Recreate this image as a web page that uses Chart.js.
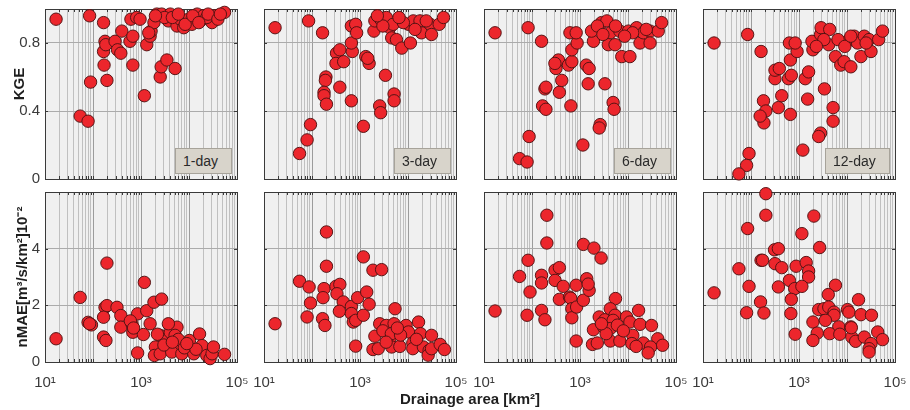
<!DOCTYPE html>
<html>
<head>
<meta charset="utf-8">
<script src="https://cdn.jsdelivr.net/npm/chart.js@4.4.0/dist/chart.umd.min.js"></script>
<style>
  body { margin: 0; background: #fff; width: 910px; height: 410px; position: relative; overflow: hidden;
         font-family: "Liberation Sans", Arial, sans-serif; }
  canvas { position: absolute; }
  .ytitle, .xtitle { position: absolute; font-weight: bold; font-size: 15px; color: #1e1e1e; white-space: nowrap; }
  .ytitle { transform: translate(-50%, -50%) rotate(-90deg); }
  .xtitle { transform: translate(-50%, -50%); }
  .tag { position: absolute; box-sizing: border-box; height: 26px; background: #d8d4cb; border: 1px solid #a7a39a;
         font-size: 14px; color: #2a2a2a; line-height: 24px; padding-left: 7px; }
</style>
</head>
<body>
<script>
// drainage area [km2] vs score, one list per panel
const kge1 = [[17,0.94],[85,0.96],[166,0.92],[54,0.37],[79,0.34],[89,0.57],[195,0.58],[170,0.67],[166,0.75],[178,0.81],
  [185,0.79],[288,0.81],[324,0.76],[380,0.74],[398,0.87],[589,0.81],[676,0.84],[676,0.67],[617,0.94],[813,0.95],
  [955,0.94],[1318,0.79],[1549,0.84],[1622,0.87],[1175,0.49],[1862,0.92],[2138,0.97],[2692,0.97],[2512,0.60],[2630,0.66],
  [3467,0.70],[5129,0.65],[4074,0.97],[3715,0.93],[5623,0.90],[6607,0.94],[7762,0.89],[9772,0.94],[11482,0.91],[14791,0.97],
  [17378,0.93],[19953,0.96],[30200,0.92],[35481,0.96],[54954,0.98],[23442,0.95],[8318,0.91],[3090,0.95],[2000,0.96],[4500,0.95],
  [6000,0.97],[12000,0.96],[16000,0.92],[25000,0.97],[40000,0.94],[45000,0.97],[1450,0.86]];
const kge3 = [[17,0.89],[85,0.93],[166,0.86],[93,0.32],[79,0.23],[55,0.15],[195,0.60],[190,0.58],[178,0.51],[178,0.49],
  [200,0.44],[380,0.54],[661,0.46],[324,0.74],[380,0.76],[316,0.68],[457,0.69],[692,0.75],[661,0.80],[661,0.90],
  [813,0.91],[851,0.86],[1318,0.72],[1549,0.68],[1450,0.71],[1175,0.31],[1950,0.87],[3388,0.61],[5129,0.50],[5129,0.46],
  [2570,0.43],[2692,0.39],[2042,0.93],[2692,0.94],[3548,0.95],[4169,0.89],[4898,0.91],[4571,0.83],[5754,0.82],[7413,0.77],
  [10233,0.91],[11220,0.80],[12882,0.93],[19055,0.86],[17783,0.93],[28840,0.91],[30903,0.85],[44668,0.91],[54954,0.95],[14000,0.88],
  [8000,0.92],[3000,0.90],[24000,0.93],[6500,0.95],[2300,0.96]];
const kge6 = [[17,0.86],[83,0.89],[158,0.81],[87,0.25],[55,0.12],[79,0.10],[166,0.43],[195,0.41],[186,0.53],[195,0.54],
  [372,0.51],[646,0.43],[417,0.58],[316,0.65],[355,0.70],[300,0.68],[575,0.67],[676,0.69],[676,0.76],[871,0.80],
  [617,0.86],[832,0.86],[1349,0.67],[1549,0.65],[1479,0.56],[3311,0.56],[4898,0.45],[5129,0.41],[2630,0.32],[2512,0.30],
  [1148,0.20],[1905,0.81],[1738,0.87],[2818,0.92],[3631,0.93],[4266,0.86],[3890,0.79],[5370,0.79],[6761,0.87],[7413,0.72],
  [10965,0.72],[10233,0.87],[15136,0.89],[17783,0.80],[20893,0.86],[28840,0.87],[28840,0.80],[42658,0.87],[50119,0.92],[12500,0.86],
  [2300,0.90],[3000,0.85],[8500,0.84],[5500,0.90],[24000,0.88]];
const kge12 = [[17,0.80],[85,0.85],[162,0.75],[91,0.15],[81,0.08],[56,0.03],[182,0.46],[204,0.40],[186,0.33],[155,0.37],
  [372,0.42],[437,0.49],[661,0.38],[316,0.59],[316,0.64],[389,0.65],[603,0.59],[692,0.61],[661,0.70],[912,0.75],
  [631,0.80],[832,0.80],[1349,0.59],[1585,0.63],[1514,0.47],[3388,0.53],[5129,0.42],[5129,0.34],[2818,0.27],[2570,0.25],
  [1202,0.17],[1950,0.76],[1862,0.81],[2818,0.85],[2884,0.89],[4365,0.88],[4169,0.79],[5754,0.72],[7413,0.67],[8710,0.69],
  [12023,0.66],[10233,0.81],[14125,0.84],[16596,0.80],[19498,0.72],[22909,0.84],[31623,0.75],[28840,0.82],[45709,0.82],[54954,0.87],
  [3300,0.82],[6500,0.82],[9000,0.78],[12000,0.84],[25000,0.80],[2300,0.78]];

const mae1 = [[17,0.82],[54,2.28],[195,3.49],[1175,2.81],[79,1.40],[93,1.31],[85,1.35],[178,1.93],[195,1.99],[316,1.93],
  [380,1.64],[166,1.58],[380,1.23],[166,0.88],[186,0.76],[646,1.35],[851,1.70],[676,1.05],[1122,0.97],[851,0.32],
  [1318,1.81],[1862,2.11],[2692,2.22],[1549,1.35],[1995,0.53],[2512,0.94],[1905,0.23],[2512,0.29],[3467,0.76],[4074,1.05],
  [4786,0.53],[5623,1.23],[5129,0.94],[4365,0.35],[7079,0.29],[10233,0.76],[16596,0.99],[12589,0.29],[18621,0.58],[23442,0.23],
  [27542,0.12],[30200,0.29],[32359,0.53],[54954,0.27],[3715,1.35],[600,1.45],[700,1.20],[3000,0.60],[6000,0.80],[8000,0.50],
  [14000,0.45],[2200,0.98],[4500,0.70],[9000,0.65]];
const mae3 = [[17,1.35],[55,2.85],[87,2.65],[93,2.08],[79,1.59],[166,1.53],[186,1.29],[178,2.59],[170,2.27],[200,3.38],
  [200,4.59],[316,2.67],[380,2.74],[331,2.41],[447,2.12],[372,1.79],[661,1.96],[661,1.71],[724,1.41],[813,1.47],
  [891,2.27],[1175,1.65],[1380,2.47],[1549,2.04],[813,0.56],[1175,3.71],[1862,3.24],[2818,3.26],[2570,1.35],[2042,0.91],
  [1862,0.44],[2399,0.47],[3548,1.29],[4169,0.79],[4571,0.53],[5370,1.88],[5129,1.35],[6761,0.55],[9120,1.29],[10233,1.06],
  [12589,0.67],[12589,0.47],[16596,1.41],[18197,1.00],[20893,0.53],[30903,0.94],[27542,0.41],[26303,0.24],[30903,0.47],[46774,0.62],
  [57544,0.44],[3000,1.10],[4500,1.00],[7000,0.95],[3500,0.70],[15000,0.80],[6000,1.20]];
const mae6 = [[17,1.80],[55,3.02],[83,3.59],[91,2.47],[79,1.65],[158,1.82],[186,1.49],[204,5.18],[204,4.20],[158,3.06],
  [158,2.79],[302,3.24],[372,3.33],[302,2.88],[447,2.67],[372,2.21],[603,2.29],[640,2.25],[676,1.88],[676,1.56],
  [851,1.94],[832,2.71],[1175,2.18],[1380,2.94],[1549,2.53],[1480,2.75],[832,0.74],[1175,4.15],[1950,4.02],[2754,3.67],
  [5495,2.24],[1905,1.14],[2512,1.59],[3311,1.49],[4266,1.88],[5370,1.65],[4898,1.47],[3090,1.24],[4266,1.18],[1820,0.62],
  [2291,0.67],[4266,0.74],[6761,0.74],[9333,1.59],[10965,1.41],[16596,1.82],[17783,1.33],[12589,0.94],[12023,0.65],[20893,0.67],
  [30903,1.29],[41687,0.82],[52481,0.59],[29512,0.53],[26303,0.32],[14791,0.55],[3500,1.00],[6000,1.30],[8000,1.10],[2800,1.35]];
const mae12 = [[17,2.44],[204,5.94],[204,5.18],[85,4.71],[2042,5.15],[1148,4.53],[2692,4.04],[309,3.96],[372,4.00],[162,3.59],
  [174,3.59],[56,3.29],[316,3.47],[437,3.33],[871,3.38],[1413,3.51],[1585,3.21],[1585,3.00],[631,2.88],[813,2.59],
  [1148,2.67],[372,2.65],[91,2.67],[5754,2.71],[4074,2.38],[692,2.21],[158,2.12],[81,1.74],[186,1.73],[676,1.71],
  [17378,2.20],[2570,1.85],[3311,1.88],[4169,1.94],[5370,1.76],[5370,1.65],[10233,1.85],[10965,1.76],[19498,1.67],[32359,1.65],
  [1950,1.41],[3548,1.47],[6761,1.24],[12023,1.24],[832,0.98],[2399,1.02],[4365,1.00],[7079,0.98],[12589,0.88],[12303,1.21],
  [1950,0.76],[15136,0.73],[22909,0.88],[43652,1.06],[54954,0.79],[31623,0.65],[28840,0.47],[28840,0.35]];

const xDecades = [10, 100, 1000, 10000, 100000];
const xTickText = { 10: '10¹', 1000: '10³', 100000: '10⁵' };
const kgeTicks = [0, 0.4, 0.8];
const maeTicks = [0, 2, 4];
const tags = ['1-day', '3-day', '6-day', '12-day'];

// minor grid positions 1..9 x each decade
const xGrid = [];
for (let e = 1; e < 5; e++) for (let m = 1; m < 10; m++) xGrid.push(m * Math.pow(10, e));
xGrid.push(100000);

const FONT = '"Liberation Sans", Arial, sans-serif';
const L = 45, R = 16, T = 9, B = 32, PW = 192, PH = 170;
const colX = [45, 264, 484, 703];
const rowY = [9, 192];

// fixed axis boxes so every panel gets the same plot area
function noPad(s) {
  s.paddingLeft = s.paddingRight = s.paddingTop = s.paddingBottom = 0;
}

const frame = {
  id: 'frame',
  beforeDraw(chart) {
    const a = chart.chartArea, c = chart.ctx;
    c.save();
    c.fillStyle = '#f0f0f0';
    c.fillRect(a.left, a.top, a.right - a.left, a.bottom - a.top);
    c.restore();
  },
  beforeDatasetsDraw(chart) {
    const a = chart.chartArea, c = chart.ctx;
    const xs = chart.scales.x, ys = chart.scales.y;
    c.save();
    c.strokeStyle = '#3a3a3a';
    c.lineWidth = 1;
    c.beginPath();
    xGrid.forEach(v => {
      const px = Math.round(xs.getPixelForValue(v)) + 0.5;
      c.moveTo(px, a.top); c.lineTo(px, a.top + 3);
      c.moveTo(px, a.bottom); c.lineTo(px, a.bottom - 3);
    });
    ys.ticks.forEach(t => {
      const py = Math.round(ys.getPixelForValue(t.value)) + 0.5;
      c.moveTo(a.left, py); c.lineTo(a.left + 3, py);
      c.moveTo(a.right, py); c.lineTo(a.right - 3, py);
    });
    c.stroke();
    c.strokeRect(Math.round(a.left) + 0.5, Math.round(a.top) + 0.5, Math.round(a.right - a.left), Math.round(a.bottom - a.top));
    c.restore();
  }
};

function panel(rows, col, row) {
  const cv = document.createElement('canvas');
  cv.width = L + PW + R;
  cv.height = T + PH + B;
  cv.style.left = (colX[col] - L) + 'px';
  cv.style.top = (rowY[row] - T) + 'px';
  document.body.appendChild(cv);
  const yTicks = row === 0 ? kgeTicks : maeTicks;
  new Chart(cv, {
    type: 'scatter',
    data: {
      datasets: [{
        data: rows.map(([a, v]) => ({ x: a, y: v })),
        backgroundColor: 'rgb(236,38,44)',
        borderColor: 'rgba(80,18,18,0.95)',
        borderWidth: 1,
        pointRadius: 6.2,
        pointHoverRadius: 6.2,
        clip: 12
      }]
    },
    options: {
      responsive: false,
      animation: false,
      events: [],
      layout: { autoPadding: false, padding: { top: T, right: R, left: 0, bottom: 0 } },
      plugins: { legend: { display: false }, tooltip: { enabled: false } },
      scales: {
        x: {
          type: 'logarithmic', min: 10, max: 100000,
          afterFit: s => { s.height = B; noPad(s); },
          afterBuildTicks: s => { s.ticks = xGrid.map(v => ({ value: v })); },
          ticks: {
            display: row === 1, autoSkip: false, maxRotation: 0, padding: 12,
            color: '#3a3a3a', font: { family: FONT, size: 15 },
            callback: v => xTickText[v] || ''
          },
          grid: { drawTicks: false, color: c => (c.tick && xDecades.includes(c.tick.value) ? '#9c9c9c' : '#c0c0c0') },
          border: { display: false }
        },
        y: {
          min: 0, max: row === 0 ? 1 : 6,
          afterFit: s => { s.width = L; noPad(s); },
          afterBuildTicks: s => { s.ticks = yTicks.map(v => ({ value: v })); },
          ticks: {
            display: col === 0, padding: 5, color: '#3a3a3a', font: { family: FONT, size: 15 },
            callback: v => String(v)
          },
          grid: { drawTicks: false, color: '#ababab' },
          border: { display: false }
        }
      }
    },
    plugins: [frame]
  });
}

[kge1, kge3, kge6, kge12].forEach((d, i) => panel(d, i, 0));
[mae1, mae3, mae6, mae12].forEach((d, i) => panel(d, i, 1));

// day tags in the lower right of the upper panels
const tagW = [57, 57, 57, 65];
tags.forEach((t, i) => {
  const el = document.createElement('div');
  el.className = 'tag';
  el.textContent = t;
  el.style.width = tagW[i] + 'px';
  el.style.left = (colX[i] + PW - 5 - tagW[i]) + 'px';
  el.style.top = '148px';
  document.body.appendChild(el);
});

function label(cls, text, x, y) {
  const el = document.createElement('div');
  el.className = cls;
  el.textContent = text;
  el.style.left = x + 'px';
  el.style.top = y + 'px';
  document.body.appendChild(el);
}
label('ytitle', 'KGE', 18, 84);
label('ytitle', 'nMAE[m³/s/km²]10⁻²', 21, 277);
label('xtitle', 'Drainage area [km²]', 470, 398);
</script>
</body>
</html>
